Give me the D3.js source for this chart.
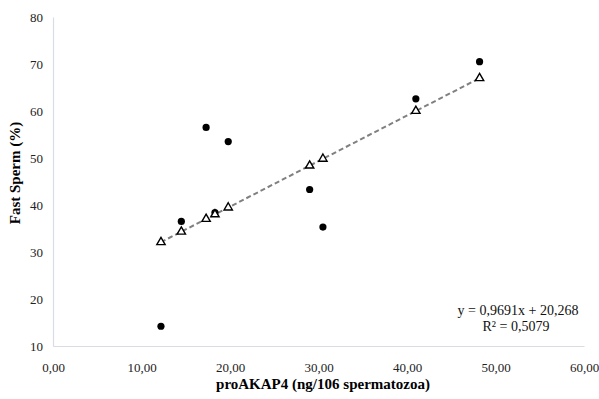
<!DOCTYPE html>
<html><head><meta charset="utf-8">
<script src="https://cdn.jsdelivr.net/npm/d3@7"></script>
<style>body{margin:0;background:#fff}svg{display:block}text{font-family:"Liberation Serif","Times New Roman",serif}</style>
</head><body>
<svg id="c" width="599" height="399"></svg>
<script>
const xValues = [12.2, 14.5, 17.3, 18.3, 19.8, 29.0, 30.5, 41.0, 48.2];
const yObserved = [14.2, 36.5, 56.5, 38.4, 53.5, 43.3, 35.3, 62.6, 70.5];
const slope = 0.9691, intercept = 20.268;
const xTicks = [0, 10, 20, 30, 40, 50, 60];
const yTicks = [10, 20, 30, 40, 50, 60, 70, 80];
const fmtX = d => d.toFixed(2).replace('.', ',');

const svg = d3.select('#c');
const x = d3.scaleLinear().domain([0, 60]).range([53, 584]);
const y = d3.scaleLinear().domain([10, 80]).range([346, 17]);
const axisColor = '#d9dce4';
const font = '"Liberation Serif", "Times New Roman", serif';

// axes
const xa = svg.append('g').attr('transform', `translate(0,${y(10)})`)
  .call(d3.axisBottom(x).tickValues(xTicks).tickFormat(fmtX).tickSize(0).tickPadding(17));
const ya = svg.append('g').attr('transform', `translate(${x(0)},0)`)
  .call(d3.axisLeft(y).tickValues(yTicks).tickSize(0).tickPadding(10));
[xa, ya].forEach(g => {
  g.attr('font-family', font).attr('font-size', 13);
  g.select('.domain').attr('stroke', axisColor).attr('stroke-width', 1.2);
  g.selectAll('text').style('font-family', font).attr('font-size', 13).attr('fill', '#222');
});

// trend line
const lineData = [d3.min(xValues), d3.max(xValues)].map(v => [v, slope * v + intercept]);
svg.append('path')
  .attr('d', d3.line().x(d => x(d[0])).y(d => y(d[1]))(lineData))
  .attr('stroke', '#808080').attr('stroke-width', 2).attr('stroke-dasharray', '5,3').attr('fill', 'none');

// observed points
svg.append('g').selectAll('circle').data(xValues).join('circle')
  .attr('cx', d => x(d)).attr('cy', (d, i) => y(yObserved[i])).attr('r', 3.6).attr('fill', '#000');

// predicted points (triangles)
const tri = d3.symbol().type(d3.symbolTriangle).size(30);
svg.append('g').selectAll('path').data(xValues).join('path')
  .attr('d', tri)
  .attr('transform', d => `translate(${x(d)},${y(slope * d + intercept)})`)
  .attr('fill', '#fff').attr('stroke', '#000').attr('stroke-width', 1.4);

// titles
svg.append('text').attr('x', 323).attr('y', 389).attr('text-anchor', 'middle')
  .style('font-family', font).attr('font-weight', 'bold').attr('font-size', 15)
  .text('proAKAP4 (ng/106 spermatozoa)');
svg.append('text').attr('transform', 'translate(20,173) rotate(-90)').attr('text-anchor', 'middle')
  .style('font-family', font).attr('font-weight', 'bold').attr('font-size', 15)
  .text('Fast Sperm (%)');

// equation
svg.append('text').attr('x', 518).attr('y', 315).attr('text-anchor', 'middle')
  .style('font-family', font).attr('font-size', 14).attr('fill', '#111')
  .text('y = 0,9691x + 20,268');
svg.append('text').attr('x', 516).attr('y', 331).attr('text-anchor', 'middle')
  .style('font-family', font).attr('font-size', 14).attr('fill', '#111')
  .text('R² = 0,5079');
</script>
</body></html>
